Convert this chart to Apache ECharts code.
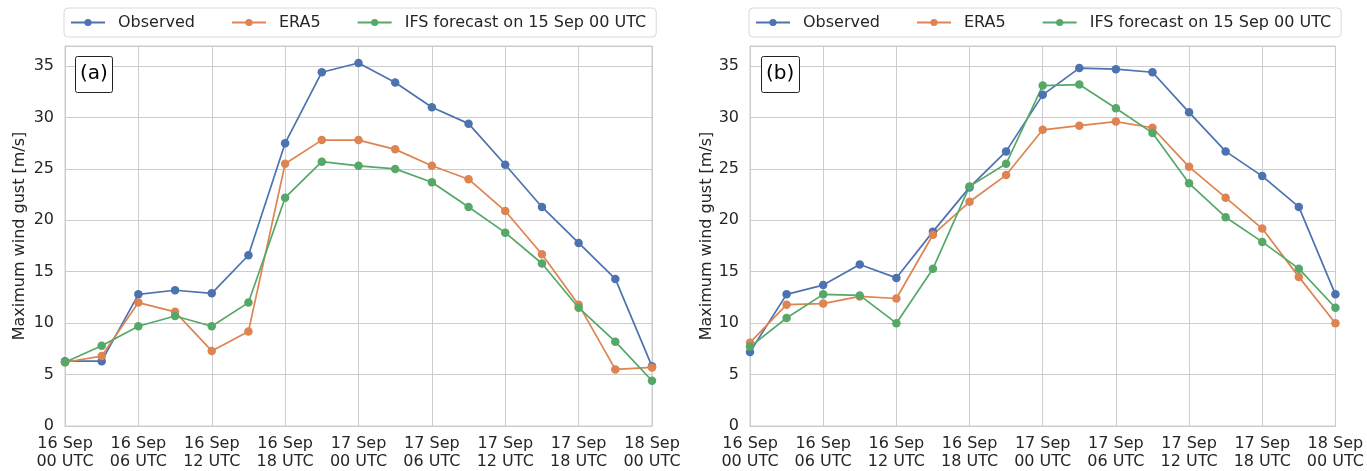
<!DOCTYPE html>
<html>
<head>
<meta charset="utf-8">
<script src="https://cdn.jsdelivr.net/npm/echarts@6/dist/echarts.min.js"></script>
<style>
html,body{margin:0;padding:0;background:#fff;}
#chart{width:1367px;height:471px;}
</style>
</head>
<body>
<div id="chart"></div>
<script>
// 3-hourly times, 16 Sep 00 UTC to 18 Sep 00 UTC
const times = ['16 Sep\n00 UTC','16 Sep\n03 UTC','16 Sep\n06 UTC','16 Sep\n09 UTC','16 Sep\n12 UTC','16 Sep\n15 UTC',
  '16 Sep\n18 UTC','16 Sep\n21 UTC','17 Sep\n00 UTC','17 Sep\n03 UTC','17 Sep\n06 UTC','17 Sep\n09 UTC',
  '17 Sep\n12 UTC','17 Sep\n15 UTC','17 Sep\n18 UTC','17 Sep\n21 UTC','18 Sep\n00 UTC'];

const seriesNames = ['Observed', 'ERA5', 'IFS forecast on 15 Sep 00 UTC'];
const panelLabels = ['(a)', '(b)'];
const yAxisTitle = 'Maximum wind gust [m/s]';

// Panel (a)
const obsA  = [6.3, 6.3, 12.8, 13.2, 12.9, 16.6, 27.5, 34.4, 35.3, 33.4, 31.0, 29.4, 25.4, 21.3, 17.8, 14.3, 5.8];
const era5A = [6.2, 6.8, 12.0, 11.1, 7.3, 9.2, 25.5, 27.8, 27.8, 26.9, 25.3, 24.0, 20.9, 16.7, 11.8, 5.5, 5.7];
const ifsA  = [6.2, 7.8, 9.7, 10.7, 9.7, 12.0, 22.2, 25.7, 25.3, 25.0, 23.7, 21.3, 18.8, 15.8, 11.5, 8.2, 4.4];

// Panel (b)
const obsB  = [7.2, 12.8, 13.7, 15.7, 14.4, 18.9, 23.2, 26.7, 32.2, 34.8, 34.7, 34.4, 30.5, 26.7, 24.3, 21.3, 12.8];
const era5B = [8.1, 11.8, 11.9, 12.6, 12.4, 18.6, 21.8, 24.4, 28.8, 29.2, 29.6, 29.0, 25.2, 22.2, 19.2, 14.5, 10.0];
const ifsB  = [7.7, 10.5, 12.8, 12.7, 10.0, 15.3, 23.3, 25.5, 33.1, 33.2, 30.9, 28.5, 23.6, 20.3, 17.9, 15.3, 11.5];

const colors = ['#4c72b0', '#dd8452', '#55a868'];
const FONT = 'DejaVu Sans';
const TXT = '#262626';
const GRIDC = '#cccccc';

const chart = echarts.init(document.getElementById('chart'), null, {renderer: 'canvas'});

const grids = [
  {left: 65, top: 46, width: 587, height: 380},
  {left: 750, top: 46, width: 587, height: 380}
];

function xAxis(i) {
  return {
    type: 'category', gridIndex: i, data: times, boundaryGap: false,
    axisLine: {show: true, lineStyle: {color: GRIDC, width: 1}},
    axisTick: {show: false},
    axisLabel: {interval: 1, color: TXT, fontFamily: FONT, fontSize: 16, lineHeight: 18, margin: 9},
    splitLine: {show: true, interval: 1, lineStyle: {color: GRIDC, width: 1}}
  };
}
function yAxis(i, gap) {
  return {
    type: 'value', gridIndex: i, min: 0, max: 36.95, interval: 5,
    name: yAxisTitle, nameLocation: 'middle', nameGap: gap,
    nameTextStyle: {color: TXT, fontFamily: FONT, fontSize: 16},
    axisLine: {show: true, lineStyle: {color: GRIDC, width: 1}},
    axisTick: {show: false},
    axisLabel: {color: TXT, fontFamily: FONT, fontSize: 16, margin: 11, showMaxLabel: false,
      formatter: v => (Math.abs(v % 5) < 1e-6 ? String(v) : '')},
    splitLine: {show: true, lineStyle: {color: GRIDC, width: 1}}
  };
}

function legend(left) {
  return {
    left: left, top: 8, width: 620,
    data: seriesNames,
    orient: 'horizontal',
    padding: [5, 10, 5, 6],
    itemWidth: 34, itemHeight: 9, itemGap: 36,
    backgroundColor: '#ffffff',
    borderColor: '#d9d9d9', borderWidth: 1, borderRadius: 4,
    textStyle: {color: TXT, fontFamily: FONT, fontSize: 16, lineHeight: 19, padding: [0, 0, 0, 8]}
  };
}

function title(text, left) {
  return {
    text: text, left: left, top: 56,
    padding: [6, 5, 7, 5],
    borderColor: '#222', borderWidth: 1, borderRadius: 2,
    backgroundColor: '#fff',
    textStyle: {color: '#000', fontFamily: FONT, fontSize: 20, fontWeight: 'normal', lineHeight: 24}
  };
}

function lineSeries(name, data, idx, color) {
  return {
    name: name, type: 'line', data: data,
    xAxisIndex: idx, yAxisIndex: idx,
    symbol: 'circle', symbolSize: 8.5, showSymbol: true,
    lineStyle: {color: color, width: 1.7},
    itemStyle: {color: color},
    emphasis: {disabled: true},
    clip: true
  };
}

const seriesA = [obsA, era5A, ifsA];
const seriesB = [obsB, era5B, ifsB];
const series = [];
seriesA.forEach((d, k) => series.push(lineSeries(seriesNames[k], d, 0, colors[k])));
seriesB.forEach((d, k) => series.push(lineSeries(seriesNames[k], d, 1, colors[k])));

chart.setOption({
  animation: false,
  backgroundColor: '#ffffff',
  color: colors,
  title: [title(panelLabels[0], 75), title(panelLabels[1], 761)],
  legend: [legend(64), legend(749)],
  grid: grids.map(g => Object.assign({show: true, borderColor: GRIDC, borderWidth: 1, backgroundColor: 'transparent'}, g)),
  xAxis: [xAxis(0), xAxis(1)],
  yAxis: [yAxis(0, 37), yAxis(1, 33)],
  series: series
});
</script>
</body>
</html>
